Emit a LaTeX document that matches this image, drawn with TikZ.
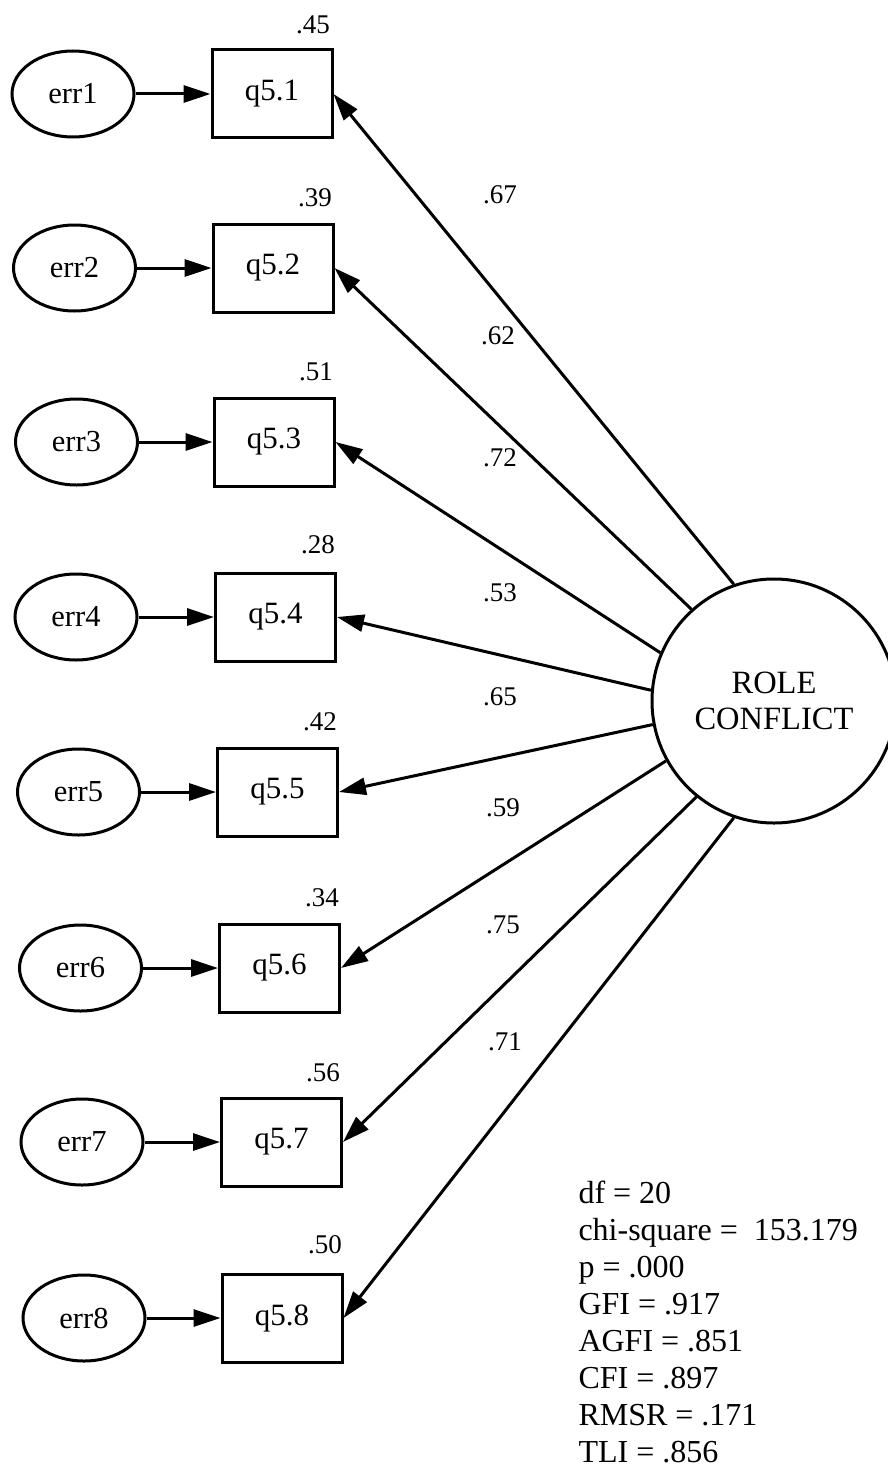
\documentclass[tikz,border=0pt]{standalone}
\usepackage{fontspec}
\setmainfont{Liberation Serif}
\usetikzlibrary{arrows.meta,shapes.geometric}
\begin{document}
\begin{tikzpicture}[x=1pt,y=-1pt,line width=3pt,
  obs/.style={draw,rectangle,minimum width=120pt,minimum height=88pt,inner sep=0pt,
    font=\fontsize{31}{35}\selectfont},
  errv/.style={draw,ellipse,minimum width=122pt,minimum height=86pt,inner sep=0pt,
    font=\fontsize{30.5}{35}\selectfont},
  lat/.style={draw,circle,minimum size=244pt,inner sep=0pt,align=center,
    font=\fontsize{32.5}{36}\selectfont},
  coef/.style={inner sep=0pt,font=\fontsize{27}{31}\selectfont},
  stat/.style={anchor=base west,inner sep=0pt,font=\fontsize{32}{37}\selectfont},
  arr/.style={-{Triangle[length=27pt,width=17pt]}}
]
\useasboundingbox (0,0) rectangle (888,1477);
\clip (0,0) rectangle (888,1477);

% latent factor
\node[lat] (rc) at (774,701) {ROLE\\CONFLICT};

% indicators and their error terms
\foreach \i/\ex/\bx/\yy/\rsq/\lx/\ly in {
  1/73/272/94/.45/313/25,
  2/74.5/273/268/.39/315/198,
  3/76.5/274/442/.51/316/372,
  4/76/275.5/617/.28/318/545,
  5/78.5/277.5/792/.42/320/722,
  6/80.5/279.5/968/.34/322/898,
  7/82/281.5/1142/.56/323/1073,
  8/84/282/1318/.50/325/1245}{
  \node[errv] (e\i) at (\ex,\yy) {err\i};
  \node[obs] (q\i) at (\bx,\yy) {q5.\i};
  \node[coef] (r\i) at (\lx,\ly) {\rsq};
  \draw[arr] (e\i.east) -- (q\i.west);
}

% factor loadings
\foreach \i/\ang/\val/\lx/\ly in {
  1/109.9/.67/500/195,
  2/132.7/.62/498/336,
  3/157.2/.72/500/458,
  4/175.8/.53/500/593,
  5/191.2/.65/500/697,
  6/209.2/.59/503/808,
  7/231.6/.75/503/925,
  8/251.6/.71/505/1042}{
  \draw[arr] (rc.\ang) -- (q\i.east);
  \node[coef] (l\i) at (\lx,\ly) {\val};
}

% fit statistics
\node[stat] (s1) at (577,1203.0) {df = 20};
\node[stat] (s2) at (577,1240.1) {chi-square =\ \ 153.179};
\node[stat] (s3) at (577,1277.2) {p = .000};
\node[stat] (s4) at (577,1314.3) {GFI = .917};
\node[stat] (s5) at (577,1351.4) {AGFI = .851};
\node[stat] (s6) at (577,1388.5) {CFI = .897};
\node[stat] (s7) at (577,1425.6) {RMSR = .171};
\node[stat] (s8) at (577,1462.7) {TLI = .856};
\end{tikzpicture}
\end{document}
